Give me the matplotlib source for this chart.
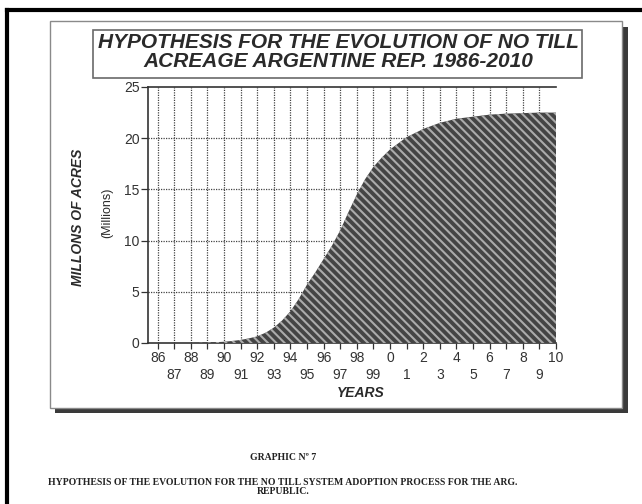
import matplotlib
matplotlib.use("Agg")
import matplotlib.pyplot as plt
from matplotlib.patches import Rectangle
from matplotlib.lines import Line2D

years = list(range(1986, 2011))
# curve readings (every half year where the curve bends most)
curve_x = [1986, 1987, 1988, 1988.5, 1989, 1989.5, 1990, 1990.5, 1991, 1991.5,
           1992, 1992.5, 1993, 1993.5, 1994, 1994.5, 1995, 1995.5, 1996, 1996.5,
           1997, 1997.5, 1998, 1998.5, 1999, 1999.5, 2000, 2000.5, 2001, 2001.5,
           2002, 2002.5, 2003, 2003.5, 2004, 2005, 2006, 2007, 2008, 2009, 2010]
curve_y = [0.0, 0.0, 0.0, 0.02, 0.05, 0.08, 0.12, 0.2, 0.3, 0.45,
           0.65, 1.0, 1.5, 2.2, 3.1, 4.3, 5.7, 6.9, 8.2, 9.5,
           11.0, 12.8, 14.5, 16.0, 17.2, 18.1, 18.9, 19.5, 20.1, 20.5,
           20.9, 21.2, 21.5, 21.7, 21.9, 22.1, 22.3, 22.4, 22.45, 22.5, 22.5]
year_labels = [str(y % 100) if y % 2 == 0 else "\n" + str(y % 100) for y in years]
y_ticks = [0, 5, 10, 15, 20, 25]

title = "HYPOTHESIS FOR THE EVOLUTION OF NO TILL\nACREAGE ARGENTINE REP. 1986-2010"
ylabel = "MILLONS OF ACRES"
ylabel2 = "(Millions)"
xlabel = "YEARS"
caption1 = "GRAPHIC N\u00ba 7"
caption2 = "HYPOTHESIS OF THE EVOLUTION FOR THE NO TILL SYSTEM ADOPTION PROCESS FOR THE ARG.\nREPUBLIC."

W, H = 642, 504
fig = plt.figure(figsize=(W / 100, H / 100), dpi=100)
fig.patch.set_facecolor("white")

def fx(x):
    return x / W

def fy(y):
    return 1 - y / H

plt.rcParams['hatch.linewidth'] = 1.5

# outer black border (top and left)
fig.add_artist(Line2D([fx(6.5), 1], [fy(9.5), fy(9.5)], color="black", lw=3.0))
fig.add_artist(Line2D([fx(6.5), fx(6.5)], [fy(9.5), 0], color="black", lw=3.0))

# panel shadow and panel
fig.add_artist(Rectangle((fx(55), fy(413)), fx(573) - fx(0), fy(27) - fy(413),
                         facecolor="#3a3a3a", edgecolor="none", zorder=0))
fig.add_artist(Rectangle((fx(50), fy(408)), fx(572) - fx(0), fy(21) - fy(408),
                         facecolor="white", edgecolor="#8a8a8a", lw=1.0, zorder=0.5))

# title box
fig.add_artist(Rectangle((fx(93), fy(78)), fx(489) - fx(0), fy(30) - fy(78),
                         facecolor="white", edgecolor="#6a6a6a", lw=1.2, zorder=1))
fig.text(fx(338), fy(52), title, ha="center", va="center", fontsize=15,
         fontweight="bold", fontstyle="italic", family="Liberation Sans",
         color="#2a2a2a", linespacing=1.05, zorder=2)

ax = fig.add_axes([fx(148), fy(343), fx(556) - fx(148), fy(87) - fy(343)])
ax.set_zorder(3)
ax.set_facecolor("none")
ax.fill_between(curve_x, curve_y, 0, facecolor="#444444", edgecolor="none",
                lw=0, zorder=3)
ax.fill_between(curve_x, curve_y, 0, facecolor="none", edgecolor="#ababab",
                hatch="\\\\\\\\", lw=0, zorder=3.5)
ax.set_xlim(1985.42, 2010)
ax.set_ylim(0, 25)

for y in years[:-1]:
    ax.axvline(y, color="#444444", lw=0.9, ls=(0, (1.0, 1.0)), zorder=1)
for v in [5, 10, 15, 20]:
    ax.axhline(v, color="#444444", lw=0.9, ls=(0, (1.0, 1.0)), zorder=1)

ax.set_xticks(years)
ax.set_xticklabels(year_labels, fontsize=10, color="#333333", family="Liberation Sans",
                   linespacing=1.2)
ax.set_yticks(y_ticks)
ax.set_yticklabels([str(v) for v in y_ticks], fontsize=10, color="#333333",
                   family="Liberation Sans")
ax.tick_params(axis="x", direction="out", length=4, width=0.9, pad=2, colors="#333333")
ax.tick_params(axis="y", direction="out", length=5, width=0.9, pad=1, colors="#333333")

for s in ["left", "bottom", "top"]:
    ax.spines[s].set_color("#333333")
    ax.spines[s].set_linewidth(1.2)
ax.spines["right"].set_visible(False)

fig.text(fx(78), fy(217), ylabel, rotation=90, ha="center", va="center", fontsize=10,
         fontweight="bold", fontstyle="italic", family="Liberation Sans", color="#2a2a2a")
fig.text(fx(107), fy(213), ylabel2, rotation=90, ha="center", va="center", fontsize=9,
         family="Liberation Sans", color="#2a2a2a")
fig.text(fx(361), fy(393), xlabel, ha="center", va="center", fontsize=10,
         fontweight="bold", fontstyle="italic", family="Liberation Sans", color="#2a2a2a")

fig.text(fx(283), fy(457), caption1, ha="center", va="center", fontsize=7,
         fontweight="bold", family="Liberation Serif", color="#222222")
fig.text(fx(283), fy(487), caption2, ha="center", va="center", fontsize=7,
         fontweight="bold", family="Liberation Serif", color="#222222", linespacing=1.1)

fig.savefig("out.png", dpi=100)
